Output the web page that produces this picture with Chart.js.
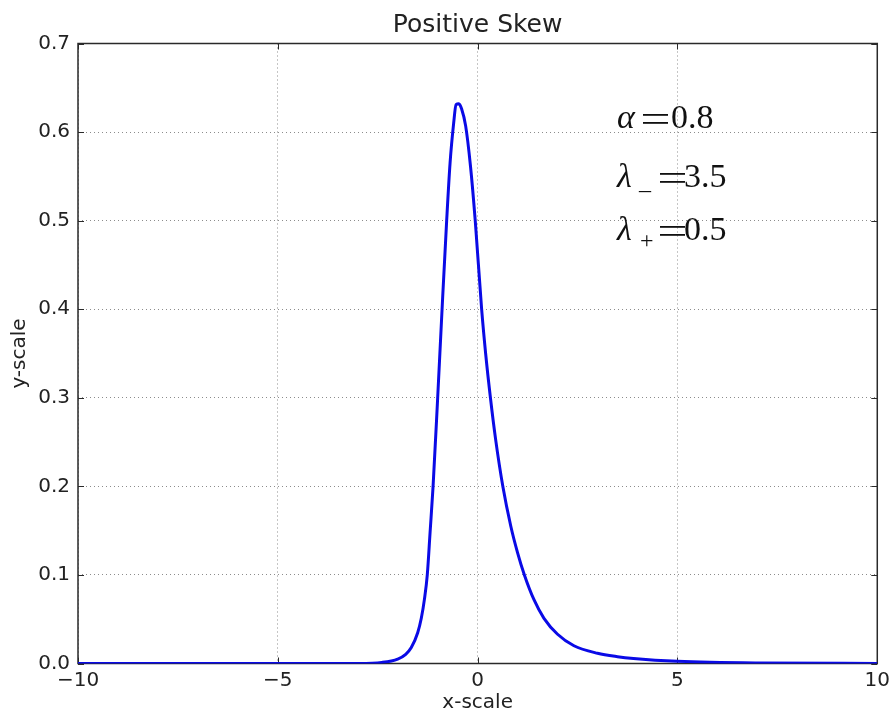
<!DOCTYPE html>
<html>
<head>
<meta charset="utf-8">
<title>Positive Skew</title>
<script src="https://cdn.jsdelivr.net/npm/chart.js@4"></script>
<style>
  html, body { margin: 0; padding: 0; background: #fff; }
  #chart { display: block; }
</style>
</head>
<body>
<canvas id="chart" width="895" height="716"></canvas>
<script>
// Positive skew density curve

const xValues = [
  -10, -5, -3, -2.4, -2.0, -1.8, -1.66, -1.5, -1.41, -1.33, -1.26, -1.19, -1.115, -1.0,
  -0.89, -0.775, -0.69, -0.6, -0.54, -0.47, -0.4, -0.3, -0.18, -0.06, 0.1, 0.2, 0.32,
  0.45, 0.63, 0.83, 1.0, 1.17, 1.41, 1.66, 2.0, 2.41, 3.0, 3.5, 3.9, 5, 7, 10
];
const yValues = [
  0, 0, 0.0001, 0.0012, 0.005, 0.0104, 0.018, 0.0347, 0.051, 0.073, 0.10, 0.148, 0.20, 0.30,
  0.40, 0.50, 0.565, 0.61, 0.631, 0.632, 0.626, 0.607, 0.562, 0.50, 0.40, 0.35, 0.30,
  0.253, 0.20, 0.155, 0.125, 0.10, 0.072, 0.051, 0.033, 0.020, 0.0115, 0.0077, 0.0057, 0.0025, 0.0006, 0.0001
];

const xTicks = [-10, -5, 0, 5, 10];
const yTicks = [0, 0.1, 0.2, 0.3, 0.4, 0.5, 0.6, 0.7];

const titleText = "Positive Skew";
const xLabel = "x-scale";
const yLabel = "y-scale";

// parameter annotations: symbol, subscript, value
const paramSymbols = ["α", "λ", "λ"];
const paramSubs = ["", "_", "+"];
const paramValues = ["0.8", "3.5", "0.5"];

const TICK_FONT = { family: "'DejaVu Sans', sans-serif", size: 20 };
const FRAME_COLOR = "#2a2a2a";

function fmtX(v) {
  return v < 0 ? "\u2212" + Math.abs(v) : String(v);
}

// frame box + inward tick marks (matplotlib look)
const framePlugin = {
  id: "frame",
  beforeDatasetsDraw(chart) {
    const { ctx, chartArea: a, scales } = chart;
    ctx.save();
    ctx.strokeStyle = FRAME_COLOR;
    ctx.lineWidth = 1.5;
    ctx.strokeRect(a.left, a.top, a.right - a.left, a.bottom - a.top);
    ctx.lineWidth = 1;
    ctx.beginPath();
    xTicks.forEach(t => {
      const px = Math.round(scales.x.getPixelForValue(t)) + 0.5;
      ctx.moveTo(px, a.bottom); ctx.lineTo(px, a.bottom - 6);
      ctx.moveTo(px, a.top); ctx.lineTo(px, a.top + 6);
    });
    yTicks.forEach(t => {
      const py = Math.round(scales.y.getPixelForValue(t)) + 0.5;
      ctx.moveTo(a.left, py); ctx.lineTo(a.left + 6, py);
      ctx.moveTo(a.right, py); ctx.lineTo(a.right - 6, py);
    });
    ctx.stroke();
    ctx.restore();
  }
};

// text block with alpha / lambda values
const paramsPlugin = {
  id: "params",
  afterDraw(chart) {
    const { ctx } = chart;
    const serif = "'Liberation Serif', 'DejaVu Serif', serif";
    const rows = [128, 187, 240];
    ctx.save();
    ctx.fillStyle = "#111";
    ctx.textBaseline = "alphabetic";
    paramSymbols.forEach((sym, i) => {
      const y = rows[i];
      ctx.font = "italic 34px " + serif;
      ctx.fillText(sym, 617, y);
      ctx.font = "24px " + serif;
      if (paramSubs[i] === "_") ctx.fillText("_", 639, y + 2);
      if (paramSubs[i] === "+") ctx.fillText("+", 640, y + 8);
      // wider equals sign like mathtext
      const eqX = i === 0 ? 643 : 660;
      ctx.fillRect(eqX, y - 14, 25, 1.8);
      ctx.fillRect(eqX, y - 6, 25, 1.8);
      ctx.font = "34px " + serif;
      ctx.fillText(paramValues[i], i === 0 ? 671 : 684, y);
    });
    ctx.restore();
  }
};

new Chart(document.getElementById("chart"), {
  type: "line",
  data: {
    datasets: [{
      data: xValues.map((x, i) => ({ x, y: yValues[i] })),
      borderColor: "#0a0ae6",
      borderWidth: 3,
      pointRadius: 0,
      cubicInterpolationMode: "monotone",
      fill: false
    }]
  },
  options: {
    responsive: false,
    animation: false,
    layout: { padding: { top: 0, right: 17, bottom: 0, left: 0 } },
    plugins: {
      legend: { display: false },
      tooltip: { enabled: false },
      title: {
        display: true,
        text: titleText,
        fullSize: false,
        color: "#222",
        font: { family: "'DejaVu Sans', sans-serif", size: 25, weight: "normal" },
        padding: { top: 10, bottom: 3.5 }
      }
    },
    scales: {
      x: {
        type: "linear",
        min: -10,
        max: 10,
        afterFit(s) { s.height = 52.5; },
        afterBuildTicks(s) { s.ticks = xTicks.map(v => ({ value: v })); },
        ticks: {
          color: "#222",
          font: TICK_FONT,
          padding: 5,
          maxRotation: 0,
          callback: v => fmtX(v)
        },
        grid: { color: "#8c8c8c", lineWidth: 1, drawTicks: false },
        border: { display: false, dash: [1, 3] },
        title: {
          display: true,
          text: xLabel,
          color: "#222",
          font: TICK_FONT,
          padding: { top: 0, bottom: 1 }
        }
      },
      y: {
        type: "linear",
        min: 0,
        max: 0.7,
        afterFit(s) { s.width = 78; },
        afterBuildTicks(s) { s.ticks = yTicks.map(v => ({ value: v })); },
        ticks: {
          color: "#222",
          font: TICK_FONT,
          padding: 8,
          callback: v => v.toFixed(1)
        },
        grid: { color: "#8c8c8c", lineWidth: 1, drawTicks: false },
        border: { display: false, dash: [1, 3] },
        title: {
          display: true,
          text: yLabel,
          color: "#222",
          font: TICK_FONT,
          padding: { top: 8, bottom: 0 }
        }
      }
    }
  },
  plugins: [framePlugin, paramsPlugin]
});
</script>
</body>
</html>
